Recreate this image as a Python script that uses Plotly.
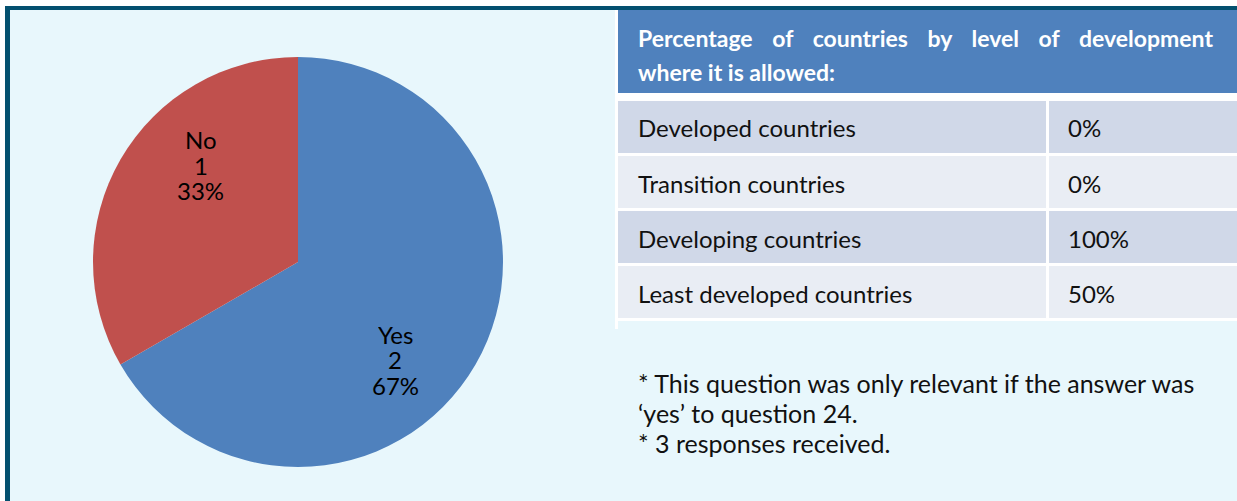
import math
import plotly.graph_objects as go

# Pie: answers received
answers = ["Yes", "No"]
answer_counts = [2, 1]
answer_colors = ["#4F81BD", "#C0504D"]

# Table: share of countries by level of development
table_title_lines = [
    ["Percentage", "of", "countries", "by", "level", "of", "development"],
    ["where", "it", "is", "allowed:"],
]
dev_levels = ["Developed countries", "Transition countries",
              "Developing countries", "Least developed countries"]
dev_shares = ["0%", "0%", "100%", "50%"]
row_colors = ["#D0D8E8", "#E9EDF4"]

notes = [
    "* This question was only relevant if the answer was",
    "\u2018yes\u2019 to question 24.",
    "* 3 responses received.",
]

W, H = 1237, 501
FONT = "Lato"
TEXT = "#111111"


def px(x):
    return x / W


def py(y):
    return 1 - y / H


# pie geometry (pixels)
PIE_L, PIE_T, PIE_SIZE = 93, 57, 410
cx, cy, R = PIE_L + PIE_SIZE / 2, PIE_T + PIE_SIZE / 2, PIE_SIZE / 2

fig = go.Figure()

fig.add_trace(go.Pie(
    labels=answers,
    values=answer_counts,
    marker=dict(colors=answer_colors, line=dict(width=0)),
    sort=False,
    direction="clockwise",
    rotation=0,
    textinfo="none",
    hovertemplate="%{label}: %{value} (%{percent:.0%})<extra></extra>",
    showlegend=False,
    domain=dict(x=[px(PIE_L), px(PIE_L + PIE_SIZE)],
                y=[py(PIE_T + PIE_SIZE), py(PIE_T)]),
))

annotations = []

# data labels: label / count / percent, placed inside each slice
total = sum(answer_counts)
start = 0.0
for name, count in zip(answers, answer_counts):
    span = 360.0 * count / total
    ang = math.radians(start + span / 2 + 15)  # clockwise from 12 o'clock
    lx = cx + 0.67 * R * math.sin(ang)
    ly = cy - 0.67 * R * math.cos(ang)
    parts = [name, str(count), f"{round(100 * count / total)}%"]
    for k, part in enumerate(parts):
        annotations.append(dict(
            text=part, x=px(lx), y=py(ly + (k - 1) * 25.5), xref="paper", yref="paper",
            xanchor="center", yanchor="middle", showarrow=False, height=24,
            font=dict(family=FONT, size=24, color="#000000")))
    start += span

# frame, panel background and table blocks
shapes = [
    dict(type="rect", x0=px(5), x1=1, y0=0, y1=py(6), fillcolor="#03506F"),
    dict(type="rect", x0=px(10), x1=1, y0=0, y1=py(10), fillcolor="#E8F7FC"),
    dict(type="rect", x0=px(615), x1=px(618), y0=py(329), y1=py(10), fillcolor="#FFFFFF"),
    dict(type="rect", x0=px(615), x1=1, y0=py(321), y1=py(10), fillcolor="#FFFFFF"),
    dict(type="rect", x0=px(618), x1=1, y0=py(93), y1=py(10), fillcolor="#4F81BD"),
]

ROW_TOP, ROW_PITCH, ROW_FILL = 101, 55, 52
COL1_X0, COL1_X1, COL2_X0 = 618, 1046, 1049
for i, (level, share) in enumerate(zip(dev_levels, dev_shares)):
    y0 = ROW_TOP + i * ROW_PITCH
    y1 = y0 + ROW_FILL
    color = row_colors[i % 2]
    shapes.append(dict(type="rect", x0=px(COL1_X0), x1=px(COL1_X1), y0=py(y1), y1=py(y0),
                       fillcolor=color))
    shapes.append(dict(type="rect", x0=px(COL2_X0), x1=1, y0=py(y1), y1=py(y0),
                       fillcolor=color))
    ymid = (y0 + y1) / 2 + 1
    annotations.append(dict(
        text=level, x=px(636), y=py(ymid), xref="paper", yref="paper",
        xanchor="left", yanchor="middle", showarrow=False,
        font=dict(family=FONT, size=24, color=TEXT)))
    annotations.append(dict(
        text=share, x=px(1066), y=py(ymid), xref="paper", yref="paper",
        xanchor="left", yanchor="middle", showarrow=False,
        font=dict(family=FONT, size=24, color=TEXT)))

for s in shapes:
    s.update(xref="paper", yref="paper", line=dict(width=0), layer="below")

# table title (first line spread across the band)
NB = "\u00a0"
title_text = [(" " + NB * 2 + "\u2009").join(table_title_lines[0]),
              " ".join(table_title_lines[1])]
for k, line in enumerate(title_text):
    annotations.append(dict(
        text="<b>" + line + "</b>", x=px(636), y=py(38 + 34 * k), xref="paper", yref="paper",
        xanchor="left", yanchor="middle", showarrow=False,
        font=dict(family=FONT, size=23, color="#FFFFFF")))

for i, line in enumerate(notes):
    annotations.append(dict(
        text=line, x=px(636), y=py(383 + 30 * i), xref="paper", yref="paper",
        xanchor="left", yanchor="middle", showarrow=False,
        font=dict(family=FONT, size=25, color=TEXT)))

fig.update_layout(
    width=W, height=H,
    margin=dict(l=0, r=0, t=0, b=0),
    paper_bgcolor="#FFFFFF",
    plot_bgcolor="#FFFFFF",
    shapes=shapes,
    annotations=annotations,
)

fig.write_html("out.html")
